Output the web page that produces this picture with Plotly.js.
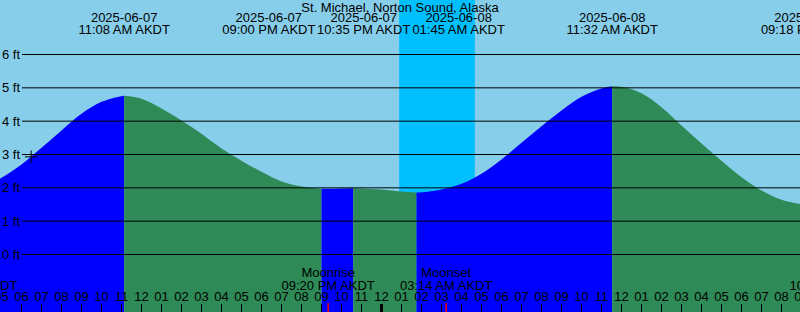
<!DOCTYPE html>
<html>
<head>
<meta charset="utf-8">
<script src="https://cdn.plot.ly/plotly-3.0.1.min.js"></script>
<style>
html,body{margin:0;padding:0;background:#87CEEB;}
#chart{width:800px;height:312px;}
</style>
</head>
<body>
<div id="chart"></div>
<script>
// ---- data ----
const stationName = 'St. Michael, Norton Sound, Alaska';

const tideTimes = [
  '2025-06-07 04:00','2025-06-07 05:00','2025-06-07 06:00','2025-06-07 07:00','2025-06-07 08:00',
  '2025-06-07 09:00','2025-06-07 10:00','2025-06-07 11:00','2025-06-07 11:08','2025-06-07 12:00',
  '2025-06-07 13:00','2025-06-07 14:00','2025-06-07 15:00','2025-06-07 16:00','2025-06-07 17:00',
  '2025-06-07 18:00','2025-06-07 19:00','2025-06-07 20:00','2025-06-07 21:00','2025-06-07 22:00',
  '2025-06-07 22:35','2025-06-07 23:00','2025-06-08 00:00','2025-06-08 01:00','2025-06-08 01:45',
  '2025-06-08 02:00','2025-06-08 03:00','2025-06-08 04:00','2025-06-08 05:00','2025-06-08 06:00',
  '2025-06-08 07:00','2025-06-08 08:00','2025-06-08 09:00','2025-06-08 10:00','2025-06-08 11:00',
  '2025-06-08 11:32','2025-06-08 12:00','2025-06-08 13:00','2025-06-08 14:00','2025-06-08 15:00',
  '2025-06-08 16:00','2025-06-08 17:00','2025-06-08 18:00','2025-06-08 19:00','2025-06-08 20:00',
  '2025-06-08 21:00','2025-06-08 21:18','2025-06-08 22:00'
];
const tideLevels = [
  1.95, 2.30, 2.70, 3.20, 3.72,
  4.22, 4.58, 4.75, 4.76, 4.67,
  4.38, 4.02, 3.62, 3.18, 2.81,
  2.48, 2.19, 2.04, 1.97, 1.98,
  1.985, 1.98, 1.95, 1.89, 1.86,
  1.865, 1.95, 2.12, 2.42, 2.85,
  3.35, 3.85, 4.32, 4.73, 4.98,
  5.05, 5.03, 4.84, 4.42, 3.87,
  3.33, 2.81, 2.32, 1.92, 1.64,
  1.51, 1.50, 1.53
];

const extremeTimes = ['2025-06-07 11:08','2025-06-07 21:00','2025-06-07 22:35','2025-06-08 01:45','2025-06-08 11:32','2025-06-08 21:18'];
const extremeDateLabels = ['2025-06-07','2025-06-07','2025-06-07','2025-06-08','2025-06-08','2025-06-08'];
const extremeTimeLabels = ['11:08 AM AKDT','09:00 PM AKDT','10:35 PM AKDT','01:45 AM AKDT','11:32 AM AKDT','09:18 PM AKDT'];

const moonTimes = ['2025-06-07 03:29','2025-06-07 21:20','2025-06-08 03:14','2025-06-08 22:44'];
const moonEvents = ['Moonset','Moonrise','Moonset','Moonrise'];
const moonTimeLabels = ['03:29 AM AKDT','09:20 PM AKDT','03:14 AM AKDT','10:44 PM AKDT'];

const sunsetTimes = ['2025-06-08 00:53'];
const sunriseTimes = ['2025-06-08 04:40'];
const midnightTimes = ['2025-06-08 00:00'];

const levelTicks = [0, 1, 2, 3, 4, 5, 6];
const levelTickLabels = ['0 ft', '1 ft', '2 ft', '3 ft', '4 ft', '5 ft', '6 ft'];
const nowTime = ['2025-06-07 06:29'];
const nowLevel = [2.93];

// hourly tick labels along the bottom (one per clock hour)
const hourTickTimes = [], hourTickLabels = [];
for (let h = 5; h <= 45; h++) {
  const day = 7 + Math.floor(h / 24), hh = h % 24, h12 = hh % 12 === 0 ? 12 : hh % 12;
  hourTickTimes.push('2025-06-0' + day + ' ' + String(hh).padStart(2, '0') + ':00');
  hourTickLabels.push(String(h12).padStart(2, '0'));
}

// ---- layout constants ----
const W = 800, H = 312;
const xRange = ['2025-06-07 04:55:30', '2025-06-08 20:55:30'];
const yRange = [-1.725, 7.635];
const FONT = 'Liberation Sans, Arial, sans-serif';
const DAY = '#87CEEB', NIGHT = '#00BFFF', RISE = '#0000FF', FALL = '#2E8B57';

// ---- build traces ----
const traces = [];
const floorLevel = yRange[0];
const bounds = [0].concat(extremeTimes.map(t => tideTimes.indexOf(t))).concat([tideTimes.length - 1]);
for (let k = 0; k < bounds.length - 1; k++) {
  const a = bounds[k], b = bounds[k + 1];
  const xs = tideTimes.slice(a, b + 1), ys = tideLevels.slice(a, b + 1);
  const rising = ys[ys.length - 1] > ys[0];
  traces.push({x: xs, y: xs.map(() => floorLevel), mode: 'lines', line: {width: 0}, hoverinfo: 'skip', showlegend: false});
  traces.push({x: xs, y: ys, mode: 'lines', line: {width: 0, shape: 'spline', smoothing: 1}, fill: 'tonexty',
               fillcolor: rising ? RISE : FALL, hoverinfo: 'skip', showlegend: false});
}
// now marker
traces.push({x: nowTime, y: nowLevel, mode: 'markers', marker: {symbol: 'cross-thin-open', size: 9, color: '#000', line: {color: '#000', width: 1}}, hoverinfo: 'skip'});

// text labels on a pixel-like overlay axis
const labelFont = {family: FONT, size: 13, color: '#000'};
function textTrace(xs, yPix, texts) {
  return {x: xs.slice(), y: xs.map(() => yPix), text: texts, mode: 'text', textposition: 'middle center',
          textfont: labelFont, yaxis: 'y2', hoverinfo: 'skip', cliponaxis: true, showlegend: false};
}
const iTopDate = traces.length; traces.push(textTrace(extremeTimes, 19.2, extremeDateLabels));
const iTopTime = traces.length; traces.push(textTrace(extremeTimes, 31, extremeTimeLabels));
const iBotWord = traces.length; traces.push(textTrace(moonTimes, 273.7, moonEvents));
const iBotTime = traces.length; traces.push(textTrace(moonTimes, 286.7, moonTimeLabels));
traces.push(textTrace(hourTickTimes, 297.7, hourTickLabels));

// ---- shapes ----
const shapes = [];
sunsetTimes.forEach((s, i) => shapes.push({type: 'rect', xref: 'x', yref: 'paper', x0: s, x1: sunriseTimes[i], y0: 0, y1: 1,
  fillcolor: NIGHT, line: {width: 0}, layer: 'below'}));
levelTicks.forEach(v => shapes.push({type: 'line', xref: 'paper', yref: 'y', x0: 22 / W, x1: 1, y0: v, y1: v,
  line: {color: '#000', width: 1}, layer: 'above'}));
midnightTimes.forEach(t => shapes.push({type: 'line', xref: 'x', yref: 'paper', x0: t, x1: t, y0: 0, y1: 8 / H,
  line: {color: '#000', width: 3}, layer: 'above'}));
moonTimes.forEach(t => shapes.push({type: 'line', xref: 'x', yref: 'paper', x0: t, x1: t, y0: 0, y1: 9 / H,
  line: {color: '#FF0000', width: 1.5}, layer: 'above'}));

const layout = {
  width: W, height: H,
  margin: {l: 0, r: 0, t: 0, b: 0, pad: 0},
  paper_bgcolor: DAY, plot_bgcolor: DAY,
  font: {family: FONT, size: 13, color: '#000'},
  showlegend: false, hovermode: false,
  title: {text: stationName, font: {family: FONT, size: 13, color: '#000'}, x: 0.5, xanchor: 'center',
          xref: 'paper', y: 1 - 7.7 / H, yanchor: 'middle', yref: 'container', pad: {t: 0, b: 0, l: 0, r: 0}},
  xaxis: {type: 'date', range: xRange, showgrid: false, zeroline: false, showline: false,
          ticks: 'inside', ticklen: 8, tickwidth: 1, tickcolor: '#000',
          tick0: '2025-06-07 00:00', dtick: 3600000, showticklabels: false, fixedrange: true},
  yaxis: {range: yRange, tickmode: 'array', tickvals: levelTicks, ticktext: levelTickLabels, ticks: '',
          ticklabelposition: 'inside', ticklabelstandoff: -1,
          showgrid: false, zeroline: false, showline: false, tickfont: {family: FONT, size: 13, color: '#000'}, fixedrange: true},
  yaxis2: {overlaying: 'y', range: [H, 0], visible: false, fixedrange: true},
  shapes: shapes
};

const gd = document.getElementById('chart');
const canvas = document.createElement('canvas');
const ctx = canvas.getContext('2d');
ctx.font = '13px "Liberation Sans", Arial, sans-serif';
const tw = s => ctx.measureText(s).width;

// spread labels that would overlap: overlapping groups are centred on the mean of their events
function pack(centers, widths, gap) {
  const order = centers.map((c, i) => i).sort((a, b) => centers[a] - centers[b]);
  const clusters = order.map(i => ({m: [i]}));
  const place = cl => {
    const tot = cl.m.reduce((s, i) => s + widths[i], 0) + gap * (cl.m.length - 1);
    const mean = cl.m.reduce((s, i) => s + centers[i], 0) / cl.m.length;
    let left = mean - tot / 2;
    cl.l = left; cl.r = left + tot; cl.pos = {};
    cl.m.forEach(i => { cl.pos[i] = left + widths[i] / 2; left += widths[i] + gap; });
  };
  clusters.forEach(place);
  let merged = true;
  while (merged) {
    merged = false;
    for (let k = 0; k < clusters.length - 1; k++) {
      if (clusters[k].r + gap > clusters[k + 1].l) {
        clusters[k].m = clusters[k].m.concat(clusters[k + 1].m);
        clusters.splice(k + 1, 1);
        place(clusters[k]);
        merged = true;
        break;
      }
    }
  }
  const out = [];
  clusters.forEach(cl => cl.m.forEach(i => { out[i] = cl.pos[i]; }));
  return out;
}

Plotly.newPlot(gd, traces, layout, {staticPlot: true, displayModeBar: false}).then(() => {
  const xa = gd._fullLayout.xaxis;
  const toPx = t => xa.c2p(xa.d2c(t));
  const toX = p => xa.c2d ? xa.c2d(xa.p2c(p)) : xa.p2c(p);
  const topW = extremeTimes.map((t, i) => Math.max(tw(extremeDateLabels[i]), tw(extremeTimeLabels[i])));
  const topPos = pack(extremeTimes.map(toPx), topW, 1).map(toX);
  const botW = moonTimes.map((t, i) => Math.max(tw(moonEvents[i]), tw(moonTimeLabels[i])));
  const botPos = pack(moonTimes.map(toPx), botW, 1).map(toX);
  return Plotly.restyle(gd, {x: [topPos, topPos, botPos, botPos]}, [iTopDate, iTopTime, iBotWord, iBotTime]);
});
</script>
</body>
</html>
